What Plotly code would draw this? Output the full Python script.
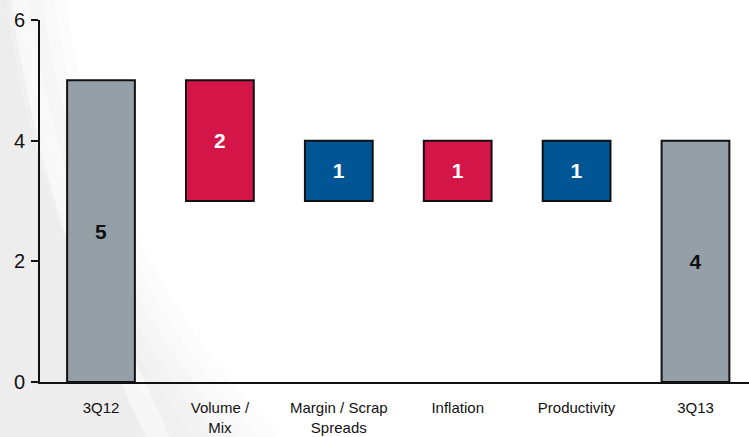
import plotly.graph_objects as go

# Bridge from 3Q12 to 3Q13
categories = ["3Q12", "Volume /<br>Mix", "Margin / Scrap<br>Spreads", "Inflation", "Productivity", "3Q13"]
start_value = 5
changes = [-2, 1, -1, 1]
end_value = 4
labels = ["5", "2", "1", "1", "1", "4"]

gray = "#959fa8"
red = "#d41547"
blue = "#005595"
ink = "#111111"
FONT = "Arial"

# running totals -> bar bases and heights
bases, heights, colors, text_colors = [0], [start_value], [gray], [ink]
level = start_value
for d in changes:
    new_level = level + d
    bases.append(min(level, new_level))
    heights.append(abs(d))
    colors.append(blue if d > 0 else red)
    text_colors.append("white")
    level = new_level
bases.append(0)
heights.append(end_value)
colors.append(gray)
text_colors.append(ink)

W, H = 749, 437
L, T, B = 40, 20, 55


def px(x):
    return (x - L) / (W - L)


def py(y):
    return (H - B - y) / (H - B - T)


fig = go.Figure(go.Bar(
    x=categories, y=heights, base=bases,
    width=0.57,
    marker=dict(color=colors, line=dict(color=ink, width=2)),
    text=labels, textposition="inside", insidetextanchor="middle",
    textangle=0,
    textfont=dict(family=FONT, size=21, color=text_colors, weight="bold"),
    cliponaxis=False,
    hoverinfo="skip",
))

# soft grey swoosh in the page background, built from stacked translucent layers
for k in range(6):
    top = 5 + k * 12
    bot = 60 + k * 22
    fig.add_shape(type="path", xref="paper", yref="paper", layer="below",
                  path=(f"M {px(0)},{py(-10)} L {px(top)},{py(-10)} "
                        f"Q {px(top + 30)},{py(250)} {px(bot + 120)},{py(447)} "
                        f"L {px(0)},{py(447)} Z"),
                  fillcolor="rgba(0,0,0,0.012)", line=dict(width=0))
# lighter streak across the swoosh
fig.add_shape(type="path", xref="paper", yref="paper", layer="below",
              path=(f"M {px(10)},{py(-10)} Q {px(35)},{py(200)} {px(150)},{py(447)} "
                    f"L {px(175)},{py(447)} Q {px(55)},{py(200)} {px(28)},{py(-10)} Z"),
              fillcolor="rgba(255,255,255,0.5)", line=dict(width=0))

fig.update_layout(
    width=W, height=H,
    margin=dict(l=L, r=0, t=T, b=B),
    paper_bgcolor="white", plot_bgcolor="rgba(0,0,0,0)",
    showlegend=False,
    font=dict(family=FONT, color=ink),
)
fig.update_xaxes(
    range=[-0.513, 5.45],
    showline=True, linecolor=ink, linewidth=2,
    showgrid=False, ticks="",
    tickfont=dict(family=FONT, size=15),
    ticklabelstandoff=11,
)
fig.update_yaxes(
    range=[0, 6], tickvals=[0, 2, 4, 6],
    showline=True, linecolor=ink, linewidth=2,
    showgrid=False, zeroline=False,
    ticks="outside", ticklen=7, tickwidth=2, tickcolor=ink,
    tickfont=dict(family=FONT, size=20),
    ticklabelstandoff=2,
)

fig.write_html("out.html")
